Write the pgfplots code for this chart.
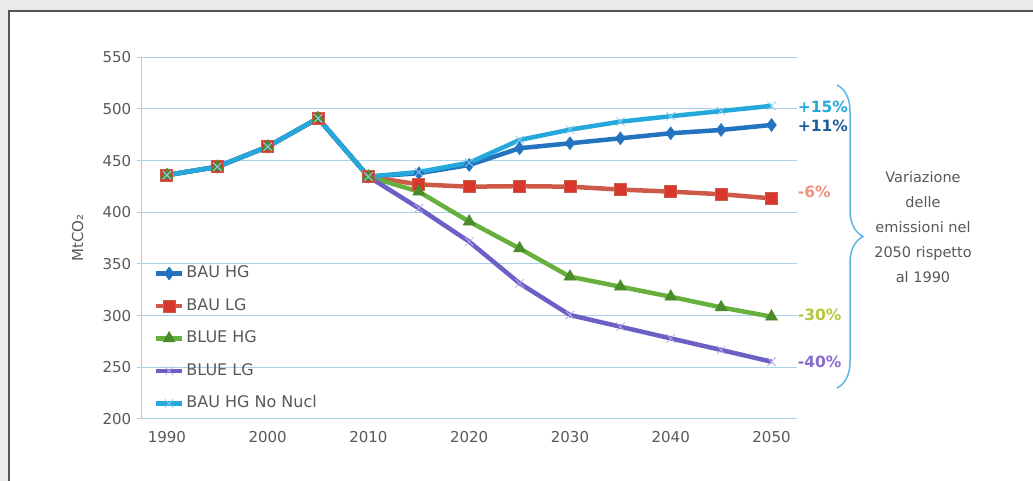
\documentclass[border=0pt]{standalone}
\usepackage{fontspec}
\setmainfont{DejaVu Sans}
\usepackage{pgfplots}
\pgfplotsset{compat=1.18}
\usetikzlibrary{decorations.pathreplacing,calc}
\definecolor{bggray}{HTML}{EAEAEA}
\definecolor{framegray}{HTML}{555555}
\definecolor{gridblue}{HTML}{A8D2EC}
\definecolor{tickgray}{HTML}{595959}
\definecolor{bauhg}{HTML}{2473BE}
\definecolor{bauhgtxt}{HTML}{1C5E9E}
\definecolor{baulg}{HTML}{CD5A48}
\definecolor{baulgmk}{HTML}{D8382B}
\definecolor{baulgtxt}{HTML}{F0937E}
\definecolor{bluehg}{HTML}{67B03E}
\definecolor{bluehgmk}{HTML}{4A8C2A}
\definecolor{bluehgtxt}{HTML}{B5C63A}
\definecolor{bluelg}{HTML}{6B60C6}
\definecolor{bluelgmk}{HTML}{B9A9E6}
\definecolor{bluelgtxt}{HTML}{8A6CCB}
\definecolor{nonucl}{HTML}{25A9DD}
\definecolor{nonuclmk}{HTML}{86CDEB}
\definecolor{bracecol}{HTML}{5DB6E6}

\begin{document}
\begin{tikzpicture}[x=1pt,y=1pt]
\useasboundingbox (0,0) rectangle (1033,481);
\fill[bggray] (0,0) rectangle (1033,481);
\fill[white] (9,0) rectangle (1033,470);
\draw[framegray,line width=1.5pt] (9,0) -- (9,470) -- (1040,470);

\begin{axis}[
  at={(141.7pt,62pt)}, anchor=south west,
  scale only axis, width=655pt, height=361.7pt,
  xmin=1987.5, xmax=2052.5, ymin=200, ymax=550,
  xtick={1990,2000,...,2050}, ytick={200,250,...,550},
  minor xtick={1987.5,1992.5,...,2052.5},
  axis x line*=bottom, axis y line*=left,
  axis line style={gridblue,line width=1pt,-},
  tick align=outside,
  x tick style={draw=none},
  y tick style={gridblue,line width=1pt},
  minor x tick style={gridblue,line width=1pt},
  major tick length=5pt, minor tick length=4pt,
  ymajorgrids, grid style={gridblue,line width=1pt},
  /pgf/number format/assume math mode=true,
  /pgf/number format/1000 sep={},
  tick label style={font=\fontsize{15}{18}\selectfont, text=tickgray},
  yticklabel style={xshift=-2pt},
  xticklabel style={yshift=-4pt},
  ylabel={MtCO₂},
  ylabel style={at={($(rel axis cs:0,0.5)+(-64pt,0pt)$)}, anchor=center,
    font=\fontsize{15}{17}\selectfont, text=tickgray},
  clip=false,
  legend style={draw=none, fill=none, at={(axis cs:1987.5,350.2)}, anchor=north west,
    xshift=12pt, inner sep=0pt, row sep=13.5pt,
    font=\fontsize{16}{18}\selectfont, text=tickgray,
    nodes={text height=12pt, text depth=3pt, inner sep=2pt}},
  legend cell align=left,
  legend image code/.code={
    \draw[mark repeat=2,mark phase=2,#1] plot coordinates {(0pt,0pt)(13pt,0pt)(26pt,0pt)};},
  every axis plot/.append style={line width=4.5pt},
]
\addplot[bauhg, mark=diamond*, mark size=6.5pt,
  mark options={fill=bauhg, draw=bauhg, line width=0.5pt}] coordinates {
  (1990,436) (1995,444) (2000,463.5) (2005,491) (2010,434.5) (2015,437.8)
  (2020,445.8) (2025,462) (2030,466.8) (2035,471.6) (2040,476.5) (2045,479.7) (2050,484.5)};
\addplot[baulg, mark=square*, mark size=6pt,
  mark options={fill=baulgmk, draw=baulg, line width=0.8pt}] coordinates {
  (1990,436) (1995,444) (2000,463.5) (2005,491) (2010,434.5) (2015,427)
  (2020,424.8) (2025,425.3) (2030,424.8) (2035,422) (2040,420) (2045,417.5) (2050,413.5)};
\addplot[bluehg, mark=triangle*, mark size=7pt,
  mark options={fill=bluehgmk, draw=bluehgmk, line width=0.5pt}] coordinates {
  (1990,436) (1995,444) (2000,463.5) (2005,491) (2010,434.5) (2015,420)
  (2020,391) (2025,365) (2030,337.7) (2035,328) (2040,318.3) (2045,308) (2050,299)};
\addplot[bluelg, mark=x, mark size=6pt,
  mark options={draw=bluelgmk, line width=0.8pt}] coordinates {
  (1990,436) (1995,444) (2000,463.5) (2005,491) (2010,434.5) (2015,404)
  (2020,371.6) (2025,331.3) (2030,300.6) (2035,289.3) (2040,278) (2045,266.8) (2050,255.4)};
\addplot[nonucl, mark=x, mark size=6pt,
  mark options={draw=nonuclmk, line width=0.8pt}] coordinates {
  (1990,436) (1995,444) (2000,463.5) (2005,491) (2010,434.5) (2015,439)
  (2020,448) (2025,470) (2030,480) (2035,487.7) (2040,493) (2045,498) (2050,503)};
\legend{BAU HG, BAU LG, BLUE HG, BLUE LG, BAU HG No Nucl}

\node[anchor=west, inner sep=1pt, text=nonucl, font=\bfseries\fontsize{15.5}{17}\selectfont] at (axis cs:2052.5,502) {+15\%};
\node[anchor=west, inner sep=1pt, text=bauhgtxt, font=\bfseries\fontsize{15.5}{17}\selectfont] at (axis cs:2052.5,483.5) {+11\%};
\node[anchor=west, inner sep=1pt, text=baulgtxt, font=\bfseries\fontsize{15.5}{17}\selectfont] at (axis cs:2052.5,420) {-6\%};
\node[anchor=west, inner sep=1pt, text=bluehgtxt, font=\bfseries\fontsize{15.5}{17}\selectfont] at (axis cs:2052.5,300.6) {-30\%};
\node[anchor=west, inner sep=1pt, text=bluelgtxt, font=\bfseries\fontsize{15.5}{17}\selectfont] at (axis cs:2052.5,255.5) {-40\%};
\end{axis}

\draw[bracecol, line width=1.5pt, decorate, decoration={brace, amplitude=26pt}]
  (837,396) -- (837,93);
\node[align=center, text=tickgray, font=\fontsize{14.5}{25}\selectfont] at (923,254)
  {Variazione\\delle\\emissioni nel\\2050 rispetto\\al 1990};
\end{tikzpicture}
\end{document}
